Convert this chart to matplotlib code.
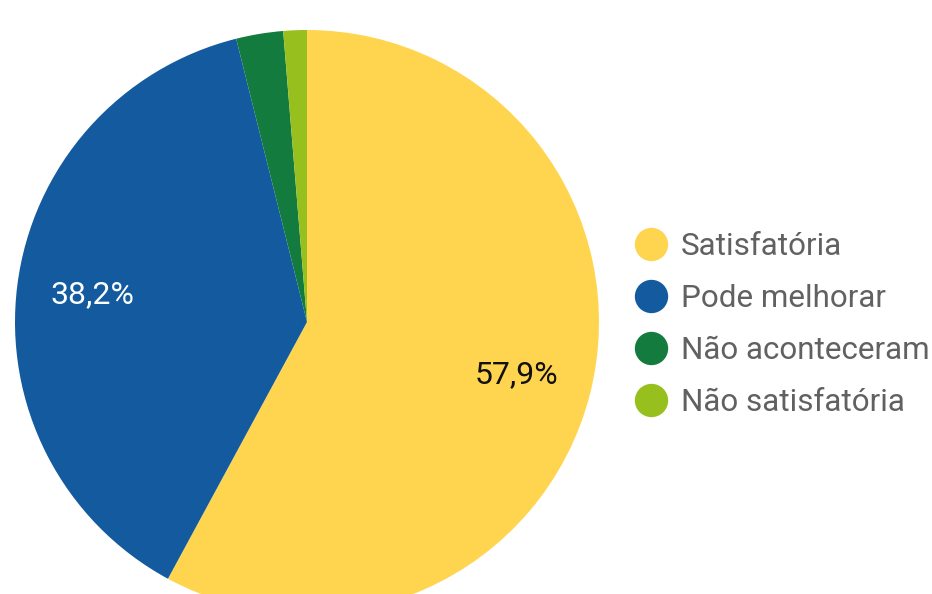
import matplotlib
matplotlib.use("Agg")
import matplotlib.pyplot as plt
from matplotlib.lines import Line2D

categories = ["Satisfatória", "Pode melhorar", "Não aconteceram", "Não satisfatória"]
values = [57.9, 38.2, 2.6, 1.3]
colors = ["#FFD54F", "#135A9E", "#137B3D", "#97C01F"]
label_colors = ["#111111", "#FFFFFF", "#111111", "#111111"]

plt.rcParams['font.family'] = ['Roboto', 'DejaVu Sans']

W, H = 932, 594
fig = plt.figure(figsize=(W / 100, H / 100), dpi=100)
# pie centre at (307, 322) px, radius 292 px
cx, cy, r = 307, 322, 292
ax = fig.add_axes([(cx - r) / W, (H - cy - r) / H, 2 * r / W, 2 * r / H])


def fmt(p):
    return f"{p:.1f}%".replace(".", ",") if p > 5 else ""


wedges, texts, autotexts = ax.pie(values, colors=colors, startangle=90, counterclock=False,
                                  autopct=fmt, pctdistance=0.74, radius=1,
                                  wedgeprops=dict(linewidth=0),
                                  textprops=dict(fontsize=23))
for t, c in zip(autotexts, label_colors):
    t.set_color(c)
ax.set_xlim(-1, 1)
ax.set_ylim(-1, 1)
ax.set_aspect('equal')
ax.axis('off')

handles = [Line2D([], [], marker='o', linestyle='none', markersize=24,
                  markerfacecolor=c, markeredgewidth=0) for c in colors]
leg = fig.legend(handles, categories, loc='upper left',
                 bbox_to_anchor=(635 / W, (H - 232) / H), frameon=False,
                 fontsize=22.6, labelspacing=0.73, handletextpad=0.46,
                 handlelength=1.0, borderpad=0, borderaxespad=0)
for t in leg.get_texts():
    t.set_color("#616161")

fig.savefig("out.png", dpi=100)
